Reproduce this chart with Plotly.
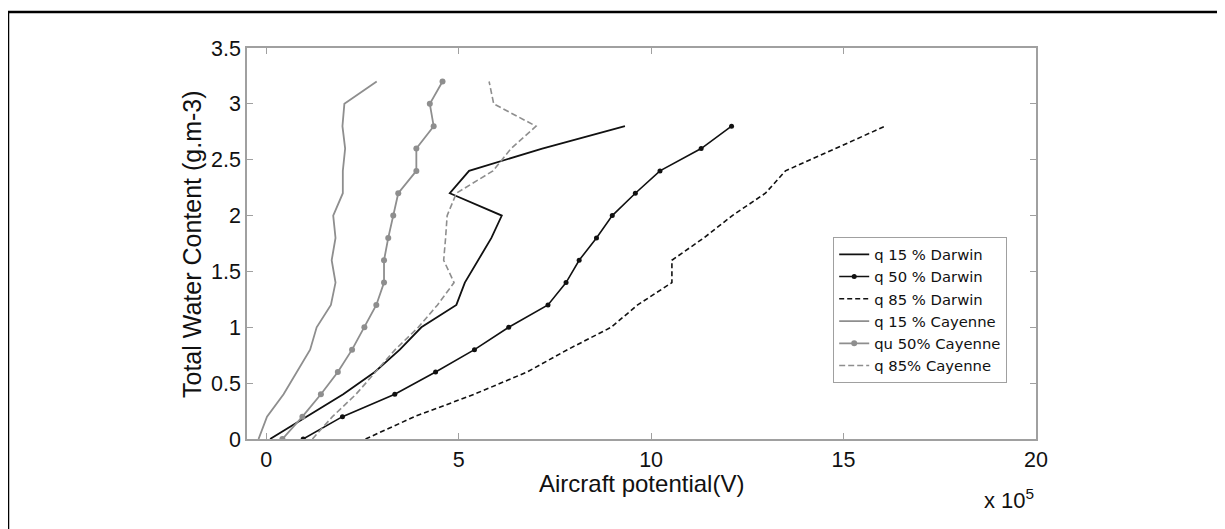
import plotly.graph_objects as go

# Total water content levels (g.m-3)
darwin_twc = [0.0, 0.2, 0.4, 0.6, 0.8, 1.0, 1.2, 1.4, 1.6, 1.8, 2.0, 2.2, 2.4, 2.6, 2.8]
cayenne_twc = [0.0, 0.2, 0.4, 0.6, 0.8, 1.0, 1.2, 1.4, 1.6, 1.8, 2.0, 2.2, 2.4, 2.6, 2.8, 3.0, 3.2]

# Aircraft potential in units of 1e5 V
darwin_q15 = [0.10, 1.05, 2.00, 2.82, 3.47, 4.03, 4.94, 5.16, 5.50, 5.85, 6.12, 4.77, 5.27, 7.17, 9.32]
darwin_q50 = [0.96, 1.98, 3.34, 4.40, 5.41, 6.30, 7.32, 7.79, 8.13, 8.58, 8.99, 9.59, 10.23, 11.30, 12.09]
darwin_q85 = [2.58, 3.85, 5.40, 6.78, 7.83, 8.96, 9.65, 10.54, 10.54, 11.37, 12.11, 12.97, 13.49, 14.78, 16.08]
cayenne_q15 = [-0.20, 0.02, 0.45, 0.79, 1.14, 1.31, 1.68, 1.80, 1.70, 1.80, 1.74, 1.99, 1.99, 2.05, 1.98, 2.03, 2.87]
cayenne_q50 = [0.42, 0.94, 1.42, 1.86, 2.23, 2.55, 2.86, 3.06, 3.06, 3.17, 3.30, 3.43, 3.90, 3.90, 4.35, 4.25, 4.58]
cayenne_q85 = [1.20, 1.72, 2.33, 2.85, 3.35, 3.95, 4.45, 4.88, 4.61, 4.66, 4.70, 4.94, 5.89, 6.36, 7.01, 5.91, 5.79]

x_ticks = [0, 5, 10, 15, 20]
y_ticks = [0, 0.5, 1, 1.5, 2, 2.5, 3, 3.5]
y_tick_labels = ["0", "0.5", "1", "1.5", "2", "2.5", "3", "3.5"]

BLACK = "#111111"
GRAY = "#8e8e8e"
FONT = "Liberation Sans"

fig = go.Figure()
fig.add_trace(go.Scatter(x=darwin_q15, y=darwin_twc, mode="lines", name="q 15 % Darwin",
                         line=dict(color=BLACK, width=1.8)))
fig.add_trace(go.Scatter(x=darwin_q50, y=darwin_twc, mode="lines+markers", name="q 50 % Darwin",
                         line=dict(color=BLACK, width=1.6), marker=dict(color=BLACK, size=5)))
fig.add_trace(go.Scatter(x=darwin_q85, y=darwin_twc, mode="lines", name="q 85 % Darwin",
                         line=dict(color=BLACK, width=1.6, dash="5px,3px")))
fig.add_trace(go.Scatter(x=cayenne_q15, y=cayenne_twc, mode="lines", name="q 15 % Cayenne",
                         line=dict(color=GRAY, width=1.8)))
fig.add_trace(go.Scatter(x=cayenne_q50, y=cayenne_twc, mode="lines+markers", name="qu 50% Cayenne",
                         line=dict(color=GRAY, width=1.8), marker=dict(color=GRAY, size=6)))
fig.add_trace(go.Scatter(x=cayenne_q85, y=cayenne_twc, mode="lines", name="q 85% Cayenne",
                         line=dict(color=GRAY, width=1.6, dash="6px,3px")))

OFF = 8  # page offset of the figure inside the browser window
W, H = 1225, 529
L = 247 - OFF
T = 48 - OFF
R = W - (1036 - OFF)
B = H - (439 - OFF)
pw = W - L - R
ph = H - T - B

def px_x(p):
    return (p - OFF - L) / pw

def px_y(p):
    return (H - B - (p - OFF)) / ph

axis_common = dict(showgrid=False, zeroline=False, showline=True, linecolor="#a0a0a0", linewidth=1.5,
                   mirror="ticks", ticks="inside", ticklen=6, tickcolor="#a0a0a0", tickwidth=1,
                   tickfont=dict(family=FONT, size=21.5, color="#111111"))

fig.update_layout(
    width=W, height=H,
    margin=dict(l=L, r=R, t=T, b=B),
    paper_bgcolor="white", plot_bgcolor="white",
    showlegend=True,
    legend=dict(x=px_x(833), y=px_y(237), xanchor="left", yanchor="top",
                bgcolor="white", bordercolor="#a0a0a0", borderwidth=1.2,
                font=dict(family="DejaVu Sans", size=14.8, color="#111111"),
                tracegroupgap=0, itemwidth=30),
    xaxis=dict(range=[-0.5, 20], tickvals=x_ticks, ticktext=[str(v) for v in x_ticks], **axis_common),
    yaxis=dict(range=[0, 3.5], tickvals=y_ticks, ticktext=y_tick_labels, **axis_common),
    annotations=[
        dict(text="Aircraft potential(V)", xref="paper", yref="paper", x=px_x(641), y=px_y(483),
             xanchor="center", yanchor="middle", showarrow=False,
             font=dict(family=FONT, size=24, color="#111111")),
        dict(text="x 10<sup>5</sup>", xref="paper", yref="paper", x=px_x(1036), y=px_y(499),
             xanchor="right", yanchor="middle", showarrow=False,
             font=dict(family=FONT, size=22, color="#111111")),
        dict(text="Total Water Content (g.m-3)", xref="paper", yref="paper", x=px_x(192), y=px_y(244),
             xanchor="center", yanchor="middle", textangle=-90, showarrow=False,
             font=dict(family=FONT, size=25, color="#111111")),
    ],
    shapes=[
        dict(type="rect", xref="paper", yref="paper", x0=px_x(8), y0=px_y(580), x1=px_x(1280), y1=px_y(12),
             line=dict(color="black", width=2.5), fillcolor="rgba(0,0,0,0)", layer="above"),
    ],
)

fig.write_html("out.html")
